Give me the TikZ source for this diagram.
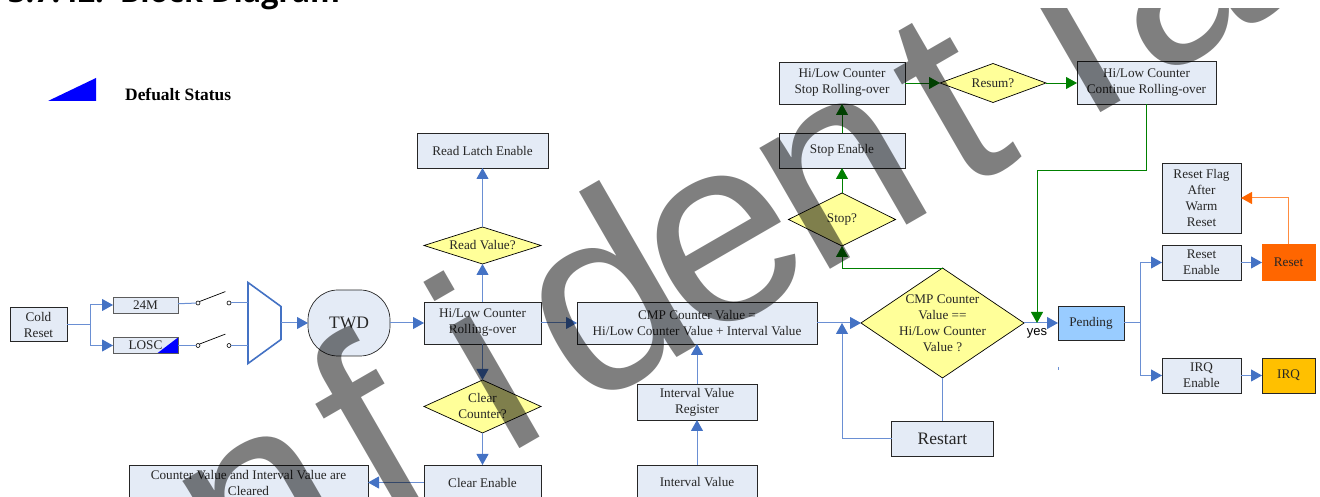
\documentclass[tikz,border=0pt]{standalone}
\usepackage{fontspec}
\usepackage{tikz}
\setmainfont{Liberation Serif}
\newfontfamily\labelsans{Liberation Sans}
\newfontfamily\stampsans[Ligatures=NoCommon]{Liberation Sans}
\newfontfamily\titlesans{Open Sans}
\usetikzlibrary{positioning}
\usetikzlibrary{arrows.meta,shapes.geometric}
\definecolor{blockfill}{HTML}{E4EBF6}
\definecolor{blockline}{HTML}{262626}
\definecolor{flowblue}{HTML}{4472C4}
\definecolor{flowlight}{HTML}{6A8FD3}
\definecolor{stopgreen}{HTML}{008000}
\definecolor{decisionfill}{HTML}{FFFF99}
\definecolor{resetorange}{HTML}{FF6600}
\definecolor{irqamber}{HTML}{FFC000}
\definecolor{pendingblue}{HTML}{99CCFF}
\tikzstyle{block node}=[draw=blockline,fill=blockfill,line width=0.8pt,inner sep=0pt,outer sep=0pt,align=center,font=\fontsize{13.2}{16}\selectfont,text=black!85]
\tikzstyle{decision node}=[diamond,draw=black,fill=decisionfill,line width=0.7pt,inner sep=0pt,outer sep=0pt]
\tikzstyle{contact node}=[circle,draw=black,fill=white,line width=0.6pt,inner sep=0pt,outer sep=0pt,minimum size=4pt]
\tikzstyle{flow edge}=[-{Triangle[length=11pt,width=12pt,color=flowblue]},draw=flowlight,line width=1pt]
\tikzstyle{flow line}=[draw=flowlight,line width=1pt]
\tikzstyle{stop edge}=[-{Triangle[length=11pt,width=12pt]},draw=stopgreen,line width=0.9pt]
\tikzstyle{reset edge}=[-{Triangle[length=11pt,width=12pt,color=resetorange]},draw=resetorange!75,line width=1pt]
\newcommand{\blocknode}[3][]{
  \node [block node, #1] (#2) {#3}
}
\newcommand{\decisionnode}[3][]{
  \node [decision node, label={[align=center,font=\fontsize{13.2}{16}\selectfont,text=black!85]center:#3}, #1] (#2) {}
}

\begin{document}
\begin{tikzpicture}[x=1pt,y=1pt]
  \useasboundingbox (0,0) rectangle (1320,497);
  \node [anchor=base west,inner sep=0pt,font=\titlesans\bfseries\fontsize{30.5}{34}\selectfont] (blocktitle) at (8,494) {3.7.42.\ \ Block Diagram};
  \fill [blue] (48,396) -- (96,396) -- (96,419) -- cycle;
  \node [anchor=west,inner sep=0pt,font=\bfseries\fontsize{17.4}{20}\selectfont] (legendtext) at (125,403) {Defualt Status};

  \blocknode[minimum width=117pt,minimum height=42pt,at={(482.5,174)}]{hilow}{Hi/Low Counter\\Rolling-over};
  \decisionnode[above=38pt of hilow,minimum width=117pt,minimum height=37pt]{readq}{Read Value?};
  \blocknode[above=59pt of readq,minimum width=131pt,minimum height=35pt]{readlatch}{Read Latch Enable};
  \decisionnode[below=36pt of hilow,minimum width=117pt,minimum height=53pt]{clearq}{Clear\\Counter?};
  \blocknode[below=32pt of clearq,minimum width=117pt,minimum height=35pt]{clearen}{Clear Enable};
  \blocknode[left=56pt of clearen,minimum width=239pt,minimum height=35pt]{cleared}{Counter Value and Interval Value are\\Cleared};

  \blocknode[right=36pt of hilow,minimum width=240pt,minimum height=42pt]{cmpvalue}{CMP Counter Value =\\Hi/Low Counter Value + Interval Value};
  \blocknode[below=40pt of cmpvalue,minimum width=120pt,minimum height=36pt]{intreg}{Interval Value\\Register};
  \blocknode[below=45pt of intreg,minimum width=120pt,minimum height=35pt]{intvalue}{Interval Value};
  \decisionnode[right=44pt of cmpvalue,minimum width=163pt,minimum height=110pt]{cmpq}{CMP Counter\\Value ==\\Hi/Low Counter\\Value ?};
  \blocknode[below=43pt of cmpq,minimum width=102pt,minimum height=35pt,font=\fontsize{17.5}{20}\selectfont]{restart}{Restart};
  \blocknode[right=34pt of cmpq,minimum width=66pt,minimum height=34pt,fill=pendingblue]{pending}{Pending};

  \blocknode[above right=26pt and 38pt of pending,minimum width=79pt,minimum height=35pt]{rsten}{Reset\\Enable};
  \blocknode[below right=18pt and 38pt of pending,minimum width=79pt,minimum height=35pt]{irqen}{IRQ\\Enable};
  \blocknode[right=21pt of rsten,minimum width=53pt,minimum height=36pt,fill=resetorange,draw=resetorange]{rstsrc}{Reset};
  \blocknode[right=21pt of irqen,minimum width=53pt,minimum height=35pt,fill=irqamber]{irqsrc}{IRQ};
  \blocknode[above=12pt of rsten,minimum width=79pt,minimum height=70pt]{rstflag}{Reset Flag\\After\\Warm\\Reset};

  \decisionnode[above=22pt of cmpq,xshift=-100.5pt,minimum width=107pt,minimum height=53pt]{stopq}{Stop?};
  \blocknode[above=25pt of stopq,minimum width=126pt,minimum height=35pt]{stopen}{Stop Enable};
  \blocknode[above=29pt of stopen,minimum width=126pt,minimum height=42pt]{stopcnt}{Hi/Low Counter\\Stop Rolling-over};
  \decisionnode[right=35pt of stopcnt,minimum width=106pt,minimum height=39pt]{resumq}{Resum?};
  \blocknode[right=31pt of resumq,minimum width=139pt,minimum height=43pt]{contcnt}{Hi/Low Counter\\Continue Rolling-over};

  \blocknode[left=34pt of hilow,minimum width=82pt,minimum height=66pt,rounded corners=30pt,line width=0.7pt,font=\fontsize{17.5}{20}\selectfont]{twd}{TWD};
  \coordinate [left=27pt of twd] (muxout);
  \draw [draw=flowblue,line width=1.6pt,fill=white,line join=miter] (muxout) ++(0,16.5) -- ++(-33,24) -- ++(0,-81) -- ++(33,24) -- cycle;
  \coordinate (muxina) at ([shift={(-33,20)}]muxout);
  \coordinate (muxinb) at ([shift={(-33,-22.5)}]muxout);
  \node [contact node,left=17pt of muxina] (swaout) {};
  \node [contact node,left=27pt of swaout] (swain) {};
  \node [contact node,left=17pt of muxinb] (swbout) {};
  \node [contact node,left=27pt of swbout] (swbin) {};
  \draw [line width=0.7pt] (swain.north east) -- ++(26,10);
  \draw [line width=0.7pt] (swbin.north east) -- ++(26,10);

  \blocknode[left=18pt of swain,yshift=-2pt,minimum width=65pt,minimum height=16pt,draw=blockline!75]{clkhi}{24M};
  \blocknode[left=18pt of swbin,minimum width=65pt,minimum height=16pt,draw=blockline!75,path picture={\fill [blue] (path picture bounding box.south east) -- (path picture bounding box.north east) -- ([xshift=-21pt]path picture bounding box.south east) -- cycle;}]{clklo}{LOSC};
  \blocknode[left=46pt of clkhi,yshift=-19.5pt,minimum width=57pt,minimum height=34pt]{coldrst}{Cold\\Reset};
  \coordinate [right=23pt of coldrst] (coldsplit);

  \draw [flow line] (coldrst) -- (coldsplit);
  \draw [flow edge] (coldsplit) |- (clkhi);
  \draw [flow edge] (coldsplit) |- (clklo);
  \draw [flow line] (clkhi) -- (swain);
  \draw [flow line] (clklo) -- (swbin);
  \draw [flow line] (swaout) -- (muxina);
  \draw [flow line] (swbout) -- (muxinb);
  \draw [flow edge] (muxout) -- (twd);
  \draw [flow edge] (twd) -- (hilow);
  \draw [flow edge] (hilow) -- (readq);
  \draw [flow edge] (readq) -- (readlatch);
  \draw [flow edge] (hilow) -- (clearq);
  \draw [flow edge] (clearq) -- (clearen);
  \draw [flow edge] (clearen) -- (cleared);
  \draw [flow edge] (hilow) -- (cmpvalue);
  \draw [flow edge] (intvalue) -- (intreg);
  \draw [flow edge] (intreg) -- (cmpvalue);
  \draw [flow edge] (cmpvalue) -- (cmpq);

  \coordinate [left=19pt of cmpq] (cmpjoin);
  \coordinate [right=13pt of cmpq] (yesjoin);
  \node [below=5pt of yesjoin,inner sep=0pt,font=\labelsans\fontsize{13}{15}\selectfont] (yeslabel) {yes};
  \draw [flow line] (cmpq) -- (restart);
  \draw [flow edge] (restart) -| (cmpjoin);
  \draw [flow edge] (cmpq) -- (pending);
  \coordinate [right=16pt of pending] (pendsplit);
  \draw [flow line] (pending) -- (pendsplit);
  \draw [flow edge] (pendsplit) |- (rsten);
  \draw [flow edge] (pendsplit) |- (irqen);
  \draw [flow edge] (rsten) -- (rstsrc);
  \draw [flow edge] (irqen) -- (irqsrc);
  \draw [reset edge] (rstsrc) |- (rstflag);
  \draw [flow line] ([yshift=-27pt]pending.south west) -- ++(0,-3);

  \draw [stop edge] (cmpq.north) -| (stopq.south);
  \draw [stop edge] (stopq) -- (stopen);
  \draw [stop edge] (stopen) -- (stopcnt);
  \draw [stop edge] (stopcnt) -- (resumq);
  \draw [stop edge] (resumq) -- (contcnt);
  \draw [stop edge] (contcnt.south) -- ++(0,-66) -| (yesjoin);

  \begin{scope}
    \clip (0,0) rectangle (1320,488);
    \node [anchor=base west,rotate=30,inner sep=0pt,text=black,text opacity=0.5,font=\stampsans\fontsize{265}{265}\selectfont] (stampword) at (-56,-284) {Con\kern20.5pt f\kern66.5pt i\kern33pt d\kern-17pt e\kern-11pt n\kern21.5pt t\kern70.5pt i\kern20pt al};
  \end{scope}
\end{tikzpicture}
\end{document}
